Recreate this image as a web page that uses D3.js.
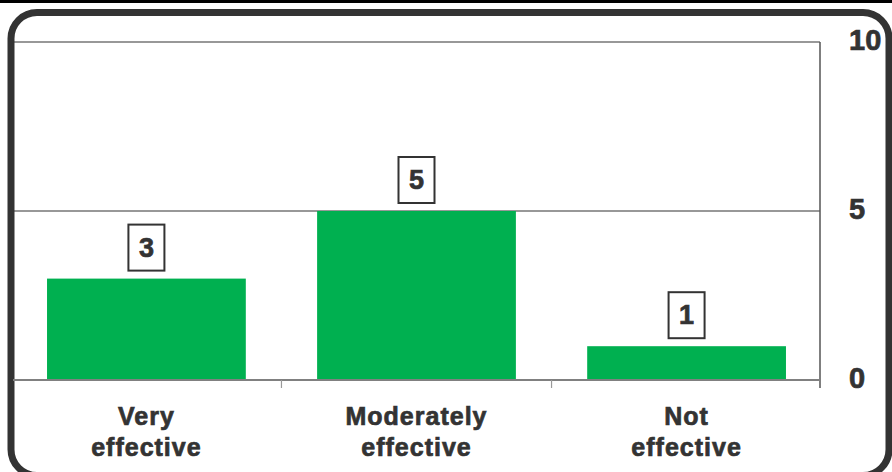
<!DOCTYPE html>
<html>
<head>
<meta charset="utf-8">
<script src="https://cdn.jsdelivr.net/npm/d3@7/dist/d3.min.js"></script>
<style>
  html, body { margin: 0; padding: 0; background: #fff; }
  svg { display: block; }
  text { font-family: "Liberation Sans", Arial, sans-serif; font-weight: bold; fill: #333; stroke: #333; stroke-width: 0.7px; }
</style>
</head>
<body>
<svg id="chart" width="892" height="472"></svg>
<script>
// Survey responses: how effective was it?
const categories = [["Very", "effective"], ["Moderately", "effective"], ["Not", "effective"]];
const values = [3, 5, 1];
const yTicks = [0, 5, 10];

const W = 892, H = 472;
const plot = { left: 13, right: 820, top: 42, bottom: 380 };
const green = "#00B050";
const ink = "#333";

const svg = d3.select("#chart");

// thin dark strip along the top edge
svg.append("rect").attr("x", 0).attr("y", 0).attr("width", W).attr("height", 3).attr("fill", "#000");

// rounded outer frame
svg.append("rect")
  .attr("x", 11).attr("y", 12.5)
  .attr("width", 878).attr("height", 463)
  .attr("rx", 26).attr("ry", 26)
  .attr("fill", "none").attr("stroke", ink).attr("stroke-width", 7);

const keys = categories.map((c, i) => i);
const x = d3.scaleBand()
  .domain(keys)
  .range([plot.left, plot.right])
  .paddingInner(0.264)
  .paddingOuter(0.126);

const y = d3.scaleLinear().domain([0, 10]).range([plot.bottom, plot.top]);

// horizontal gridlines above zero
svg.append("g").selectAll("line")
  .data(yTicks.filter(t => t > 0))
  .join("line")
  .attr("x1", plot.left).attr("x2", plot.right)
  .attr("y1", d => y(d)).attr("y2", d => y(d))
  .attr("stroke", ink).attr("stroke-width", 1.2);

// bars
svg.append("g").selectAll("rect")
  .data(values)
  .join("rect")
  .attr("x", (d, i) => x(i))
  .attr("y", d => y(d))
  .attr("width", x.bandwidth())
  .attr("height", d => y(0) - y(d))
  .attr("fill", green);

// right-hand value axis line
svg.append("line")
  .attr("x1", plot.right).attr("x2", plot.right)
  .attr("y1", plot.top).attr("y2", plot.bottom + 8)
  .attr("stroke", "#555").attr("stroke-width", 1.5);

// category axis baseline and boundary ticks
svg.append("line")
  .attr("x1", plot.left).attr("x2", plot.right)
  .attr("y1", y(0)).attr("y2", y(0))
  .attr("stroke", "#808080").attr("stroke-width", 2);

const step = x.step();
svg.append("g").selectAll("line")
  .data(keys.slice(1))
  .join("line")
  .attr("x1", i => x(i) - step * x.paddingInner() / 2)
  .attr("x2", i => x(i) - step * x.paddingInner() / 2)
  .attr("y1", y(0)).attr("y2", y(0) + 8)
  .attr("stroke", "#999").attr("stroke-width", 1.2);

// value axis labels on the right
svg.append("g").selectAll("text")
  .data(yTicks)
  .join("text")
  .attr("x", 849)
  .attr("y", d => y(d) + 8)
  .attr("font-size", 29)
  .text(d => d);

// boxed value labels above bars
const boxW = 36, boxH = 46;
const labels = svg.append("g").selectAll("g")
  .data(values)
  .join("g")
  .attr("transform", (d, i) => `translate(${x(i) + x.bandwidth() / 2},${y(d) - 8})`);
labels.append("rect")
  .attr("x", -boxW / 2).attr("y", -boxH)
  .attr("width", boxW).attr("height", boxH)
  .attr("fill", "#fff").attr("stroke", ink).attr("stroke-width", 2);
labels.append("text")
  .attr("text-anchor", "middle")
  .attr("y", -14)
  .attr("font-size", 27)
  .text(d => d);

// category labels, two lines each
const cat = svg.append("g").selectAll("text")
  .data(categories)
  .join("text")
  .attr("text-anchor", "middle")
  .attr("font-size", 25)
  .attr("letter-spacing", 1)
  .attr("x", (d, i) => x(i) + x.bandwidth() / 2);
cat.selectAll("tspan")
  .data(d => d)
  .join("tspan")
  .attr("x", function () { return d3.select(this.parentNode).attr("x"); })
  .attr("y", (d, j) => 425 + j * 31)
  .text(d => d);
</script>
</body>
</html>
